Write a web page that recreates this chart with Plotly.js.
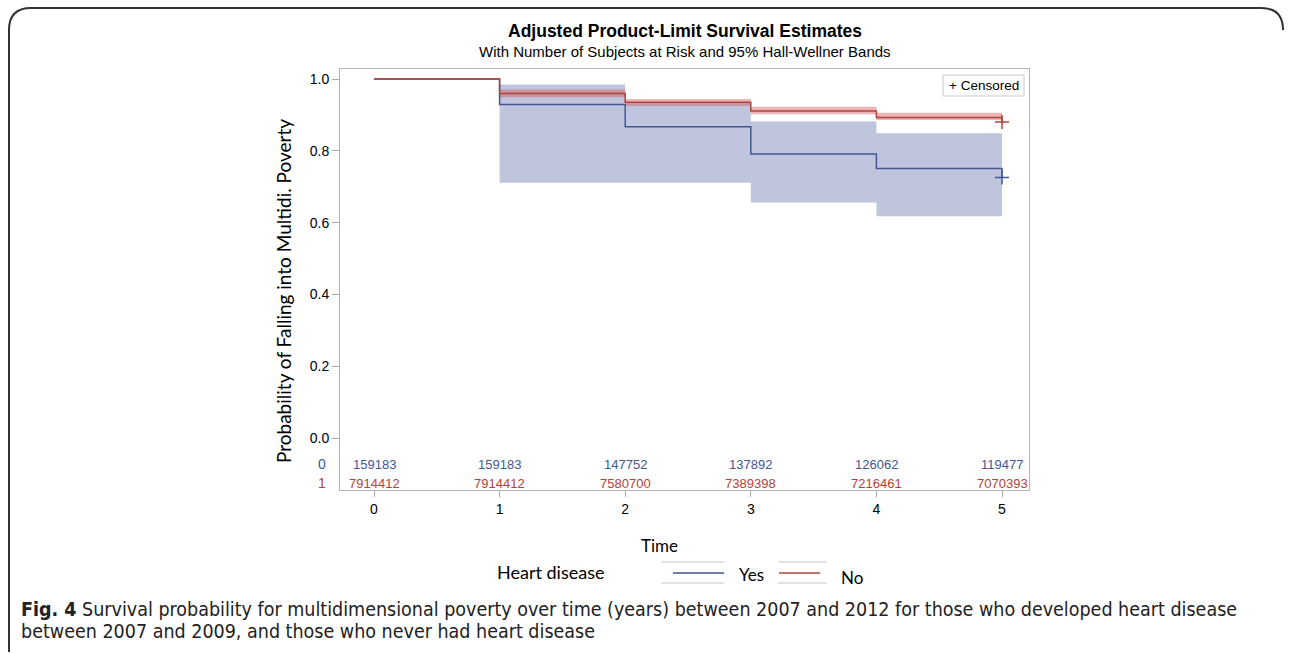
<!DOCTYPE html>
<html><head><meta charset="utf-8">
<script src="https://cdn.plot.ly/plotly-3.0.1.min.js"></script>
<style>html,body{margin:0;padding:0;background:#fff;}#chart{width:1292px;height:653px;}</style>
</head><body><div id="chart"></div>
<script>
// ---- data ----
const timePoints = [0, 1, 2, 3, 4, 5];
const survYes = [1.0, 0.929, 0.867, 0.791, 0.751, 0.726];
const survNo = [1.0, 0.960, 0.935, 0.911, 0.893, 0.880];
const bandTime = [1, 2, 3, 4, 5];
const yesLower = [0.711, 0.711, 0.656, 0.618, 0.618];
const yesUpper = [0.985, 0.935, 0.882, 0.849, 0.849];
const noLower = [0.949, 0.925, 0.902, 0.886, 0.886];
const noUpper = [0.971, 0.944, 0.923, 0.906, 0.906];
const censorTime = [5];
const censorYes = [0.726];
const censorNo = [0.880];
const riskYes = [159183, 159183, 147752, 137892, 126062, 119477];
const riskNo = [7914412, 7914412, 7580700, 7389398, 7216461, 7070393];
const riskRowLabels = ['0', '1'];
const yTickVals = [0, 0.2, 0.4, 0.6, 0.8, 1.0];
const yTickText = ['0.0', '0.2', '0.4', '0.6', '0.8', '1.0'];
const legendLabels = ['Yes', 'No'];

// ---- styling ----
const BLUE = '#445694', RED = '#B5423A';
const BLUE_FILL = 'rgba(111,126,179,0.45)', RED_FILL = 'rgba(208,91,91,0.45)';
const ARIAL = 'Liberation Sans, Arial, sans-serif';
const CAL = 'Lato, Open Sans, sans-serif';
const CAP = 'Liberation Sans Narrow, DejaVu Sans Condensed, Open Sans, sans-serif';
const L = 340, R = 1029, T = 69, B = 490, W = 1292, H = 653;
const px = x => (x - L) / (R - L);
const py = y => (B - y) / (B - T);

const traces = [
  {x: bandTime, y: yesLower, mode: 'lines', line: {width: 0, shape: 'hv'}, hoverinfo: 'skip', showlegend: false},
  {x: bandTime, y: yesUpper, mode: 'lines', line: {width: 0, shape: 'hv'}, fill: 'tonexty', fillcolor: BLUE_FILL, hoverinfo: 'skip', showlegend: false},
  {x: bandTime, y: noLower, mode: 'lines', line: {width: 0, shape: 'hv'}, hoverinfo: 'skip', showlegend: false},
  {x: bandTime, y: noUpper, mode: 'lines', line: {width: 0, shape: 'hv'}, fill: 'tonexty', fillcolor: RED_FILL, hoverinfo: 'skip', showlegend: false},
  {x: timePoints, y: survYes, mode: 'lines', line: {color: BLUE, width: 1.5, shape: 'hv'}, name: legendLabels[0], showlegend: false},
  {x: timePoints, y: survNo, mode: 'lines', line: {color: RED, width: 1.5, shape: 'hv'}, name: legendLabels[1], showlegend: false},
  {x: censorTime, y: censorYes, mode: 'markers', marker: {symbol: 'cross-thin', size: 10, line: {color: BLUE, width: 1.5}}, showlegend: false},
  {x: censorTime, y: censorNo, mode: 'markers', marker: {symbol: 'cross-thin', size: 10, line: {color: RED, width: 1.5}}, showlegend: false}
];

const annotations = [];
// titles
annotations.push({xref: 'paper', yref: 'paper', x: px(684.5), y: py(31), text: '<b>Adjusted Product-Limit Survival Estimates</b>', showarrow: false, font: {family: ARIAL, size: 17.5, color: '#000'}, xanchor: 'center', yanchor: 'middle'});
annotations.push({xref: 'paper', yref: 'paper', x: px(684.5), y: py(51), text: 'With Number of Subjects at Risk and 95% Hall-Wellner Bands', showarrow: false, font: {family: ARIAL, size: 15, color: '#000'}, xanchor: 'center', yanchor: 'middle'});
// risk table
timePoints.forEach((t, i) => {
  annotations.push({xref: 'x', yref: 'paper', x: t, y: py(464), text: String(riskYes[i]), showarrow: false, font: {family: ARIAL, size: 13, color: BLUE}, xanchor: 'center', yanchor: 'middle'});
  annotations.push({xref: 'x', yref: 'paper', x: t, y: py(483), text: String(riskNo[i]), showarrow: false, font: {family: ARIAL, size: 13, color: RED}, xanchor: 'center', yanchor: 'middle'});
});
annotations.push({xref: 'paper', yref: 'paper', x: px(322), y: py(464), text: riskRowLabels[0], showarrow: false, font: {family: ARIAL, size: 14, color: BLUE}, xanchor: 'center', yanchor: 'middle'});
annotations.push({xref: 'paper', yref: 'paper', x: px(322), y: py(483), text: riskRowLabels[1], showarrow: false, font: {family: ARIAL, size: 14, color: RED}, xanchor: 'center', yanchor: 'middle'});
// axis titles
annotations.push({xref: 'paper', yref: 'paper', x: px(283), y: py(291), text: 'Probability of Falling into Multidi. Poverty', textangle: -90, showarrow: false, font: {family: CAL, size: 19, color: '#000'}, xanchor: 'center', yanchor: 'middle'});
annotations.push({xref: 'paper', yref: 'paper', x: px(659), y: py(545), text: 'Time', showarrow: false, font: {family: CAL, size: 17, color: '#000'}, xanchor: 'center', yanchor: 'middle'});
// legend
annotations.push({xref: 'paper', yref: 'paper', x: px(550), y: py(572), text: 'Heart disease', showarrow: false, font: {family: CAL, size: 18, color: '#000'}, xanchor: 'center', yanchor: 'middle'});
annotations.push({xref: 'paper', yref: 'paper', x: px(737), y: py(574), text: legendLabels[0], showarrow: false, font: {family: CAL, size: 17, color: '#000'}, xanchor: 'left', yanchor: 'middle'});
annotations.push({xref: 'paper', yref: 'paper', x: px(839), y: py(577), text: legendLabels[1], showarrow: false, font: {family: CAL, size: 17, color: '#000'}, xanchor: 'left', yanchor: 'middle'});
// censored legend
annotations.push({xref: 'paper', yref: 'paper', x: px(983.5), y: py(85.5), text: '+ Censored', showarrow: false, font: {family: ARIAL, size: 13.5, color: '#000'}, xanchor: 'center', yanchor: 'middle'});
// caption
annotations.push({xref: 'paper', yref: 'paper', x: px(19), y: py(609), text: '<b>Fig. 4</b> Survival probability for multidimensional poverty over time (years) between 2007 and 2012 for those who developed heart disease', showarrow: false, font: {family: CAP, size: 19.5, color: '#222'}, xanchor: 'left', yanchor: 'middle'});
annotations.push({xref: 'paper', yref: 'paper', x: px(19), y: py(631), text: 'between 2007 and 2009, and those who never had heart disease', showarrow: false, font: {family: CAP, size: 19.5, color: '#222'}, xanchor: 'left', yanchor: 'middle'});

const shapes = [];
// outer frame
const fr = `M ${px(1283)},${py(30)} Q ${px(1283)},${py(8)} ${px(1261)},${py(8)} L ${px(31)},${py(8)} Q ${px(9)},${py(8)} ${px(9)},${py(30)} L ${px(9)},${py(652)}`;
shapes.push({type: 'path', xref: 'paper', yref: 'paper', path: fr, line: {color: '#333', width: 2}});
// censored box
shapes.push({type: 'rect', xref: 'paper', yref: 'paper', x0: px(943), x1: px(1024), y0: py(75), y1: py(96), line: {color: '#c8c8c8', width: 1}, fillcolor: '#fff'});
// legend decorations
[[661, 724], [778, 827]].forEach(([a, b]) => {
  shapes.push({type: 'line', xref: 'paper', yref: 'paper', x0: px(a), x1: px(b), y0: py(562), y1: py(562), line: {color: '#d9d9d9', width: 1.5}});
  shapes.push({type: 'line', xref: 'paper', yref: 'paper', x0: px(a), x1: px(b), y0: py(583), y1: py(583), line: {color: '#d9d9d9', width: 1.5}});
});
shapes.push({type: 'line', xref: 'paper', yref: 'paper', x0: px(673), x1: px(724), y0: py(573), y1: py(573), line: {color: BLUE, width: 1.5}});
shapes.push({type: 'line', xref: 'paper', yref: 'paper', x0: px(779), x1: px(820), y0: py(573), y1: py(573), line: {color: RED, width: 1.5}});

const layout = {
  width: W, height: H,
  margin: {l: L, r: W - R, t: T, b: H - B, pad: 0},
  paper_bgcolor: '#fff', plot_bgcolor: '#fff',
  showlegend: false,
  xaxis: {range: [-0.2707, 5.215], tickvals: timePoints, ticks: 'outside', ticklen: 6, tickcolor: '#aaa',
    showline: true, mirror: true, linecolor: '#b4b4b4', linewidth: 1, showgrid: false, zeroline: false,
    tickfont: {family: ARIAL, size: 14, color: '#000'}},
  yaxis: {range: [-0.1448, 1.0279], tickvals: yTickVals, ticktext: yTickText, ticks: 'outside', ticklen: 7, tickcolor: '#aaa',
    showline: true, mirror: true, linecolor: '#b4b4b4', linewidth: 1, showgrid: false, zeroline: false,
    tickfont: {family: ARIAL, size: 14, color: '#000'}},
  annotations: annotations,
  shapes: shapes
};

Plotly.newPlot('chart', traces, layout, {displayModeBar: false, staticPlot: true});
</script>
</body></html>
